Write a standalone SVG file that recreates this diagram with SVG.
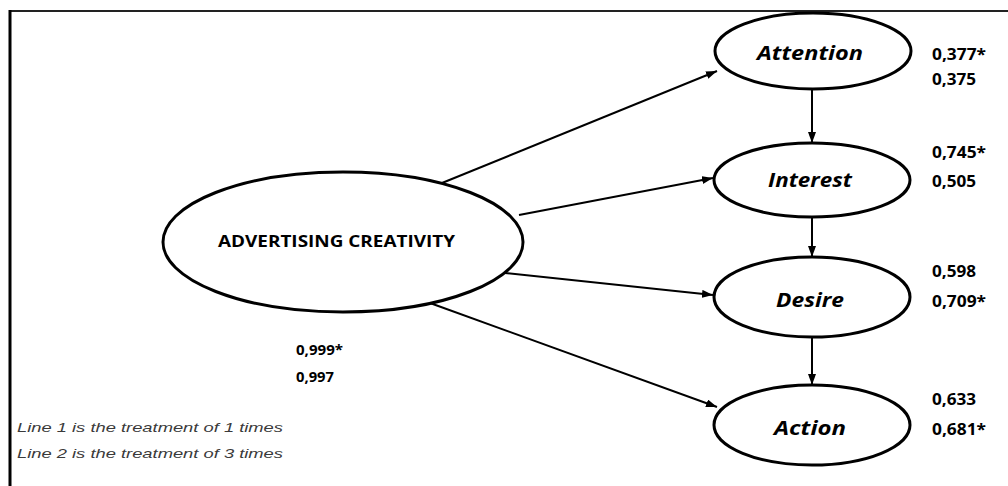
<svg xmlns="http://www.w3.org/2000/svg" width="1008" height="486" viewBox="0 0 1008 486">
<style>
.node{fill:#fff;stroke:#000;stroke-width:3}
.lbl{font-family:"Open Sans","Liberation Sans",sans-serif;font-weight:bold;font-style:italic;font-size:19px;fill:#000}
.main{font-family:"Open Sans","Liberation Sans",sans-serif;font-weight:bold;font-size:16px;fill:#000}
.num{font-family:"Open Sans","Liberation Sans",sans-serif;font-weight:bold;font-size:16px;fill:#000}
.num2{font-family:"Open Sans","Liberation Sans",sans-serif;font-weight:bold;font-size:15px;fill:#000}
.leg{font-family:"Liberation Sans",Arial,sans-serif;font-style:italic;font-size:13px;fill:#3a3a3a}
.conn line{stroke:#000;stroke-width:2;marker-end:url(#ah)}
</style>
<defs>
<marker id="ah" markerUnits="userSpaceOnUse" markerWidth="11" markerHeight="8" refX="11" refY="4" orient="auto">
<path d="M0,0 L11,4 L0,8 z" fill="#000"/>
</marker>
</defs>
<rect width="1008" height="486" fill="#fff"/>
<line x1="9" y1="11" x2="1008" y2="11" stroke="#222" stroke-width="2"/>
<line x1="10" y1="10" x2="10" y2="486" stroke="#000" stroke-width="3"/>
<g class="conn">
<line x1="442" y1="183" x2="717" y2="71"/>
<line x1="519" y1="215" x2="713" y2="178"/>
<line x1="505" y1="273" x2="713" y2="295"/>
<line x1="430" y1="303" x2="717" y2="407"/>
<line x1="812" y1="89" x2="812" y2="143"/>
<line x1="812" y1="218" x2="812" y2="257"/>
<line x1="812" y1="337" x2="812" y2="385"/>
</g>
<g id="creativity">
<ellipse class="node" cx="343" cy="242" rx="180" ry="70"/>
<text class="main" x="218" y="247" textLength="237" lengthAdjust="spacingAndGlyphs">ADVERTISING CREATIVITY</text>
</g>
<g id="attention">
<ellipse class="node" cx="813" cy="51" rx="98" ry="38"/>
<text class="lbl" x="757" y="60" textLength="106" lengthAdjust="spacingAndGlyphs">Attention</text>
</g>
<g id="interest">
<ellipse class="node" cx="812" cy="180" rx="98" ry="37"/>
<text class="lbl" x="768" y="187" textLength="84" lengthAdjust="spacingAndGlyphs">Interest</text>
</g>
<g id="desire">
<ellipse class="node" cx="812" cy="297" rx="98" ry="40"/>
<text class="lbl" x="776" y="307" textLength="68" lengthAdjust="spacingAndGlyphs">Desire</text>
</g>
<g id="action">
<ellipse class="node" cx="812" cy="425" rx="98" ry="40"/>
<text class="lbl" x="774" y="435" textLength="72" lengthAdjust="spacingAndGlyphs">Action</text>
</g>
<g id="values">
<text class="num" x="932" y="60" textLength="54" lengthAdjust="spacingAndGlyphs">0,377*</text>
<text class="num" x="932" y="85" textLength="44" lengthAdjust="spacingAndGlyphs">0,375</text>
<text class="num" x="932" y="158" textLength="54" lengthAdjust="spacingAndGlyphs">0,745*</text>
<text class="num" x="932" y="187" textLength="44" lengthAdjust="spacingAndGlyphs">0,505</text>
<text class="num" x="932" y="277" textLength="44" lengthAdjust="spacingAndGlyphs">0,598</text>
<text class="num" x="932" y="307" textLength="54" lengthAdjust="spacingAndGlyphs">0,709*</text>
<text class="num" x="932" y="405" textLength="44" lengthAdjust="spacingAndGlyphs">0,633</text>
<text class="num" x="932" y="435" textLength="54" lengthAdjust="spacingAndGlyphs">0,681*</text>
<text class="num2" x="296" y="355" textLength="47" lengthAdjust="spacingAndGlyphs">0,999*</text>
<text class="num2" x="296" y="382" textLength="38" lengthAdjust="spacingAndGlyphs">0,997</text>
</g>
<g id="legend">
<text class="leg" x="17" y="432" textLength="266" lengthAdjust="spacingAndGlyphs">Line 1 is the treatment of 1 times</text>
<text class="leg" x="17" y="458" textLength="266" lengthAdjust="spacingAndGlyphs">Line 2 is the treatment of 3 times</text>
</g>
</svg>
